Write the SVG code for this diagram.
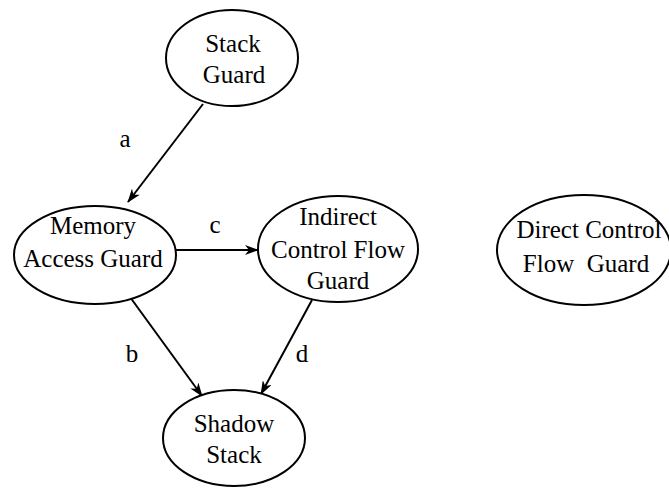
<svg xmlns="http://www.w3.org/2000/svg" width="669" height="488" viewBox="0 0 669 488">
<defs>
<style>
.n{fill:#fff;stroke:#000;stroke-width:2}
.t{font-family:'Liberation Serif',serif;font-size:25px;fill:#000;text-anchor:middle}
.e{stroke:#000;stroke-width:2;fill:none;marker-end:url(#ah)}
</style>
<marker id="ah" viewBox="0 0 14 10" refX="13" refY="5" markerWidth="14" markerHeight="10" markerUnits="userSpaceOnUse" orient="auto">
<path d="M0,0 L14,5 L0,10 L4,5 Z" fill="#000"/>
</marker>
</defs>
<rect width="669" height="488" fill="#fff"/>
<g id="edges">
<line class="e" x1="203" y1="104" x2="128" y2="202"/>
<line class="e" x1="176" y1="250" x2="258" y2="250"/>
<line class="e" x1="130" y1="297" x2="202" y2="396"/>
<line class="e" x1="312" y1="300" x2="261" y2="394"/>
<text class="t" font-family="'Liberation Serif', serif" x="125" y="147">a</text>
<text class="t" font-family="'Liberation Serif', serif" x="215" y="233">c</text>
<text class="t" font-family="'Liberation Serif', serif" x="132" y="362">b</text>
<text class="t" font-family="'Liberation Serif', serif" x="302" y="362">d</text>
</g>
<g id="stack-guard">
<ellipse class="n" cx="232" cy="58" rx="66" ry="48"/>
<text class="t" font-family="'Liberation Serif', serif" x="233" y="52">Stack</text>
<text class="t" font-family="'Liberation Serif', serif" x="234" y="83">Guard</text>
</g>
<g id="memory-access-guard">
<ellipse class="n" cx="95" cy="255" rx="81" ry="49"/>
<text class="t" font-family="'Liberation Serif', serif" x="93" y="234">Memory</text>
<text class="t" font-family="'Liberation Serif', serif" x="93" y="267">Access Guard</text>
</g>
<g id="indirect-cfg">
<ellipse class="n" cx="338" cy="249" rx="80" ry="53"/>
<text class="t" font-family="'Liberation Serif', serif" x="338" y="225">Indirect</text>
<text class="t" font-family="'Liberation Serif', serif" x="338" y="258">Control Flow</text>
<text class="t" font-family="'Liberation Serif', serif" x="338" y="289">Guard</text>
</g>
<g id="direct-cfg">
<ellipse class="n" cx="584" cy="250" rx="87" ry="55"/>
<text class="t" font-family="'Liberation Serif', serif" x="589" y="238">Direct Control</text>
<text class="t" font-family="'Liberation Serif', serif" x="586" y="272" xml:space="preserve">Flow  Guard</text>
</g>
<g id="shadow-stack">
<ellipse class="n" cx="234" cy="438" rx="71" ry="48"/>
<text class="t" font-family="'Liberation Serif', serif" x="234" y="432">Shadow</text>
<text class="t" font-family="'Liberation Serif', serif" x="234" y="463">Stack</text>
</g>
</svg>
